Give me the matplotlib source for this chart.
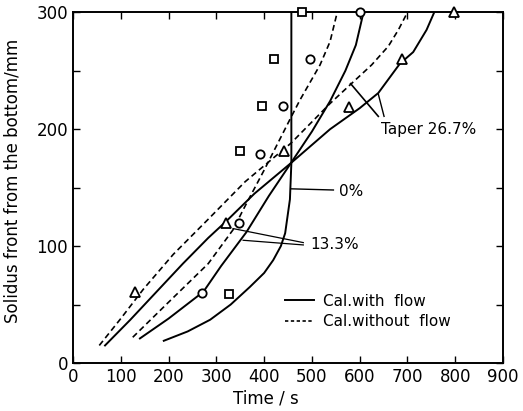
import matplotlib
matplotlib.use("Agg")
from matplotlib import pyplot as plt
from matplotlib.lines import Line2D

# calculated solidus front (with flow = solid, without flow = dashed)
t_0_flow = [190, 240, 287, 330, 370, 400, 419, 435, 444, 454, 457, 457]
h_0_flow = [19, 27, 37, 50, 65, 77, 88, 100, 111, 140, 171, 300]

t_13_flow = [140, 200, 273, 310, 363, 410, 456, 500, 538, 570, 592, 608]
h_13_flow = [21, 38, 61, 83, 112, 143, 171, 198, 224, 250, 272, 300]
t_13_noflow = [125, 200, 283, 335, 356, 400, 456, 475, 517, 538, 553]
h_13_noflow = [22, 52, 85, 114, 131, 165, 210, 225, 255, 275, 300]

t_27_flow = [67, 120, 175, 230, 283, 320, 380, 456, 538, 600, 639, 684, 712, 740, 756]
h_27_flow = [15, 37, 61, 85, 107, 121, 145, 171, 200, 218, 231, 256, 266, 285, 300]
t_27_noflow = [55, 100, 147, 210, 283, 360, 456, 538, 580, 625, 660, 681, 700]
h_27_noflow = [15, 38, 63, 93, 123, 155, 188, 222, 238, 255, 271, 285, 300]

# measured points
t_sq = [327, 350, 395, 421, 480]
h_sq = [59, 181, 220, 260, 300]
t_circ = [271, 347, 391, 439, 496, 601]
h_circ = [60, 120, 179, 220, 260, 300]
t_tri = [130, 320, 442, 578, 688, 798]
h_tri = [61, 120, 181, 219, 260, 300]

x_ticks = [0, 100, 200, 300, 400, 500, 600, 700, 800, 900]
y_ticks = [0, 100, 200, 300]

fig = plt.figure(figsize=(5.23, 4.11), dpi=100)
ax = fig.add_axes([0.1396, 0.1168, 0.8222, 0.8532])

lw = 1.4
dash = (0, (3.5, 2.2))
ax.plot(t_0_flow, h_0_flow, color="black", lw=lw)
ax.plot(t_13_flow, h_13_flow, color="black", lw=lw)
ax.plot(t_13_noflow, h_13_noflow, color="black", lw=1.2, linestyle=dash)
ax.plot(t_27_flow, h_27_flow, color="black", lw=lw)
ax.plot(t_27_noflow, h_27_noflow, color="black", lw=1.2, linestyle=dash)

mk = dict(linestyle="none", markerfacecolor="white", markeredgecolor="black",
          markeredgewidth=1.3, clip_on=False, zorder=5)
ax.plot(t_sq, h_sq, marker="s", markersize=5.5, **mk)
ax.plot(t_circ, h_circ, marker="o", markersize=6, **mk)
ax.plot(t_tri, h_tri, marker="^", markersize=6.5, **mk)

# leader lines and labels
ax.plot([457, 545], [149, 148], color="black", lw=1)
ax.text(556, 147, "0%", fontsize=11, va="center", ha="left")
ax.plot([335, 482], [115, 103], color="black", lw=0.9)
ax.plot([356, 482], [105, 101], color="black", lw=0.9)
ax.text(496, 101, "13.3%", fontsize=11, va="center", ha="left")
ax.plot([581, 639], [239, 211], color="black", lw=1.2)
ax.plot([639, 651], [230, 211], color="black", lw=1.0)
ax.text(645, 200, "Taper 26.7%", fontsize=11, va="center", ha="left")

handles = [Line2D([], [], color="black", lw=lw),
           Line2D([], [], color="black", lw=1.2, linestyle=(0, (2, 1.5)))]
ax.legend(handles, ["Cal.with  flow", "Cal.without  flow"], loc="lower left",
          bbox_to_anchor=(0.475, 0.075), frameon=False, fontsize=11,
          handlelength=1.9, handletextpad=0.6, labelspacing=0.35, borderpad=0)

ax.set_xlim(0, 900)
ax.set_ylim(0, 300)
ax.set_xticks(x_ticks)
ax.set_yticks(y_ticks)
ax.set_yticks([50, 150, 250], minor=True)
ax.tick_params(which="both", direction="in", top=True, right=True,
               length=5, width=1, labelsize=12)
for s in ax.spines.values():
    s.set_linewidth(1.4)

ax.set_xlabel("Time / s", fontsize=12)
ax.set_ylabel("Solidus front from the bottom/mm", fontsize=12)
ax.xaxis.set_label_coords(0.449, -0.075)
ax.yaxis.set_label_coords(-0.12, 0.52)

fig.savefig("out.png", dpi=100)
